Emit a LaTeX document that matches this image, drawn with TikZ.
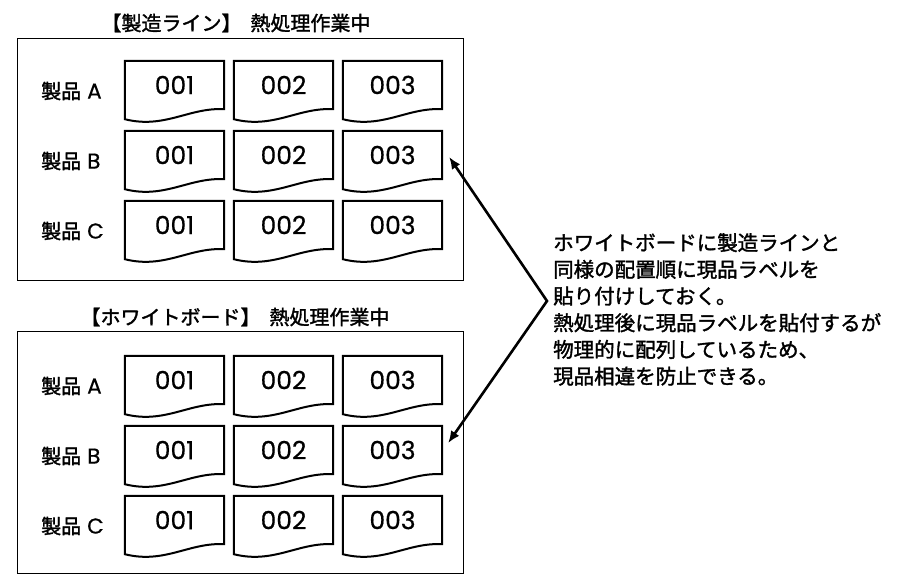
\documentclass[tikz,border=0pt]{standalone}
\usepackage{fontspec}
\setmainfont{Noto Sans CJK JP}[FakeBold=1.6]
\newfontfamily\latinfont{Poppins}[FakeBold=0.6]
\usetikzlibrary{calc,arrows.meta}
\tikzset{
  doc/.style={minimum width=99pt, minimum height=48pt, inner sep=0pt, font=\latinfont\fontsize{25}{25}\selectfont},
  docline/.style={line width=2pt, line join=miter},
  frame/.style={draw, line width=1pt, inner sep=0pt},
  rowlabel/.style={anchor=west, inner sep=0pt, font=\fontsize{20}{20}\selectfont},
  boxtitle/.style={inner sep=0pt, font=\fontsize{20}{20}\selectfont},
  note/.style={anchor=north west, align=left, inner sep=0pt, font=\fontsize{20.5}{26.7}\selectfont},
  pointer/.style={{Latex[length=12pt,width=10pt]}-{Latex[length=12pt,width=10pt]}, line width=2.6pt, line join=miter},
}
\newcommand\drawdoc[1]{\draw[docline] (#1.north west) -- (#1.north east) -- (#1.south east)
  .. controls ($(#1.south east)+(-35,-2)$) and ($(#1.south west)+(40,20)$) .. ($(#1.south west)+(0,10)$) -- cycle;}
\begin{document}
\begin{tikzpicture}[x=1pt,y=-1pt]
\useasboundingbox (0,0) rectangle (900,585);
% frames
\node[frame, minimum width=446pt, minimum height=242pt] (frameU) at (240,160) {};
\node[frame, minimum width=446pt, minimum height=241pt] (frameW) at (240,452.5) {};
% titles
\node[boxtitle] (titleU) at (236,23) {【製造ライン】\hspace{0.45em}熱処理作業中};
\node[boxtitle] (titleW) at (235,317) {【ホワイトボード】\hspace{0.45em}熱処理作業中};
% documents and row labels
\foreach \pfx/\yo in {u/0, w/295} {
  \foreach \r/\ry/\L in {1/61/A, 2/131/B, 3/201/C} {
    \node[rowlabel] (\pfx lab\r) at (41,\ry+\yo+30) {製品\hspace{0.3em}{\latinfont\fontsize{21.5}{21.5}\selectfont\L}};
    \foreach \c/\cx in {1/174.5, 2/283.5, 3/392.5} {
      \node[doc] (\pfx\r\c) at (\cx,\ry+\yo+24) {00\c};
      \drawdoc{\pfx\r\c}
    }
  }
}
% note
\node[note] (note) at (553,233) {ホワイトボードに製造ラインと\\同様の配置順に現品ラベルを\\貼り付けしておく。\\熱処理後に現品ラベルを貼付するが\\物理的に配列しているため、\\現品相違を防止できる。};
% pointers
\coordinate (vertex) at (547,301);
\draw[pointer] ($(u23.east)+(7,2)$) -- (vertex) -- ($(w23.east)+(6,-7)$);
\end{tikzpicture}
\end{document}
